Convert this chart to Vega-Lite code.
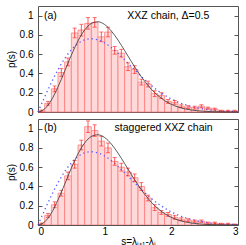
{
  "$schema": "https://vega.github.io/schema/vega-lite/v6.json",
  "background": "white",
  "padding": {"left": 5, "top": 5, "right": 7, "bottom": 0},
  "config": {
    "font": "Liberation Sans",
    "view": {"stroke": "#555555", "strokeWidth": 1},
    "axis": {"labelFontSize": 10, "titleFontSize": 10, "titleFontWeight": "normal", "labelColor": "#000", "titleColor": "#000", "grid": false, "domain": false, "tickColor": "#555555", "tickSize": -4, "format": "~g"},
    "text": {"font": "Liberation Sans", "fontSize": 10.5}
  },
  "datasets": {
    "bins": [
      {"panel":"a","s0":0.0,"s1":0.1,"s":0.05,"p":0.01,"err":0.01},
      {"panel":"a","s0":0.1,"s1":0.2,"s":0.15,"p":0.09,"err":0.02},
      {"panel":"a","s0":0.2,"s1":0.3,"s":0.25,"p":0.24,"err":0.03},
      {"panel":"a","s0":0.3,"s1":0.4,"s":0.35,"p":0.41,"err":0.04},
      {"panel":"a","s0":0.4,"s1":0.5,"s":0.45,"p":0.52,"err":0.04},
      {"panel":"a","s0":0.5,"s1":0.6,"s":0.55,"p":0.82,"err":0.05},
      {"panel":"a","s0":0.6,"s1":0.7,"s":0.65,"p":0.85,"err":0.06},
      {"panel":"a","s0":0.7,"s1":0.8,"s":0.75,"p":0.92,"err":0.06},
      {"panel":"a","s0":0.8,"s1":0.9,"s":0.85,"p":0.93,"err":0.05},
      {"panel":"a","s0":0.9,"s1":1.0,"s":0.95,"p":0.78,"err":0.05},
      {"panel":"a","s0":1.0,"s1":1.1,"s":1.05,"p":0.83,"err":0.05},
      {"panel":"a","s0":1.1,"s1":1.2,"s":1.15,"p":0.64,"err":0.04},
      {"panel":"a","s0":1.2,"s1":1.3,"s":1.25,"p":0.61,"err":0.04},
      {"panel":"a","s0":1.3,"s1":1.4,"s":1.35,"p":0.47,"err":0.04},
      {"panel":"a","s0":1.4,"s1":1.5,"s":1.45,"p":0.44,"err":0.04},
      {"panel":"a","s0":1.5,"s1":1.6,"s":1.55,"p":0.31,"err":0.03},
      {"panel":"a","s0":1.6,"s1":1.7,"s":1.65,"p":0.29,"err":0.03},
      {"panel":"a","s0":1.7,"s1":1.8,"s":1.75,"p":0.19,"err":0.03},
      {"panel":"a","s0":1.8,"s1":1.9,"s":1.85,"p":0.17,"err":0.03},
      {"panel":"a","s0":1.9,"s1":2.0,"s":1.95,"p":0.11,"err":0.02},
      {"panel":"a","s0":2.0,"s1":2.1,"s":2.05,"p":0.10,"err":0.02},
      {"panel":"a","s0":2.1,"s1":2.2,"s":2.15,"p":0.06,"err":0.015},
      {"panel":"a","s0":2.2,"s1":2.3,"s":2.25,"p":0.05,"err":0.015},
      {"panel":"a","s0":2.3,"s1":2.4,"s":2.35,"p":0.045,"err":0.015},
      {"panel":"a","s0":2.4,"s1":2.5,"s":2.45,"p":0.06,"err":0.015},
      {"panel":"a","s0":2.5,"s1":2.6,"s":2.55,"p":0.04,"err":0.01},
      {"panel":"a","s0":2.6,"s1":2.7,"s":2.65,"p":0.03,"err":0.01},
      {"panel":"a","s0":2.7,"s1":2.8,"s":2.75,"p":0.01,"err":0.008},
      {"panel":"a","s0":2.8,"s1":2.9,"s":2.85,"p":0.01,"err":0.008},
      {"panel":"a","s0":2.9,"s1":3.0,"s":2.95,"p":0.01,"err":0.008},
      {"panel":"b","s0":0.0,"s1":0.1,"s":0.05,"p":0.01,"err":0.01},
      {"panel":"b","s0":0.1,"s1":0.2,"s":0.15,"p":0.10,"err":0.02},
      {"panel":"b","s0":0.2,"s1":0.3,"s":0.25,"p":0.21,"err":0.03},
      {"panel":"b","s0":0.3,"s1":0.4,"s":0.35,"p":0.33,"err":0.03},
      {"panel":"b","s0":0.4,"s1":0.5,"s":0.45,"p":0.51,"err":0.04},
      {"panel":"b","s0":0.5,"s1":0.6,"s":0.55,"p":0.63,"err":0.04},
      {"panel":"b","s0":0.6,"s1":0.7,"s":0.65,"p":0.83,"err":0.05},
      {"panel":"b","s0":0.7,"s1":0.8,"s":0.75,"p":1.02,"err":0.06},
      {"panel":"b","s0":0.8,"s1":0.9,"s":0.85,"p":0.98,"err":0.06},
      {"panel":"b","s0":0.9,"s1":1.0,"s":0.95,"p":0.87,"err":0.05},
      {"panel":"b","s0":1.0,"s1":1.1,"s":1.05,"p":0.80,"err":0.05},
      {"panel":"b","s0":1.1,"s1":1.2,"s":1.15,"p":0.66,"err":0.04},
      {"panel":"b","s0":1.2,"s1":1.3,"s":1.25,"p":0.60,"err":0.04},
      {"panel":"b","s0":1.3,"s1":1.4,"s":1.35,"p":0.55,"err":0.04},
      {"panel":"b","s0":1.4,"s1":1.5,"s":1.45,"p":0.49,"err":0.04},
      {"panel":"b","s0":1.5,"s1":1.6,"s":1.55,"p":0.40,"err":0.04},
      {"panel":"b","s0":1.6,"s1":1.7,"s":1.65,"p":0.28,"err":0.03},
      {"panel":"b","s0":1.7,"s1":1.8,"s":1.75,"p":0.18,"err":0.03},
      {"panel":"b","s0":1.8,"s1":1.9,"s":1.85,"p":0.13,"err":0.02},
      {"panel":"b","s0":1.9,"s1":2.0,"s":1.95,"p":0.11,"err":0.02},
      {"panel":"b","s0":2.0,"s1":2.1,"s":2.05,"p":0.08,"err":0.02},
      {"panel":"b","s0":2.1,"s1":2.2,"s":2.15,"p":0.06,"err":0.015},
      {"panel":"b","s0":2.2,"s1":2.3,"s":2.25,"p":0.05,"err":0.015},
      {"panel":"b","s0":2.3,"s1":2.4,"s":2.35,"p":0.04,"err":0.012},
      {"panel":"b","s0":2.4,"s1":2.5,"s":2.45,"p":0.04,"err":0.012},
      {"panel":"b","s0":2.5,"s1":2.6,"s":2.55,"p":0.02,"err":0.01},
      {"panel":"b","s0":2.6,"s1":2.7,"s":2.65,"p":0.02,"err":0.01},
      {"panel":"b","s0":2.7,"s1":2.8,"s":2.75,"p":0.01,"err":0.008},
      {"panel":"b","s0":2.8,"s1":2.9,"s":2.85,"p":0.01,"err":0.008},
      {"panel":"b","s0":2.9,"s1":3.0,"s":2.95,"p":0.005,"err":0.005}
    ],
    "curves": [
      {"s":0.0,"gue":0.0,"goe":0.0},
      {"s":0.1,"gue":0.03201,"goe":0.15585},
      {"s":0.2,"gue":0.12325,"goe":0.30444},
      {"s":0.3,"gue":0.26022,"goe":0.43908},
      {"s":0.4,"gue":0.42315,"goe":0.55412},
      {"s":0.5,"gue":0.58960,"goe":0.64539},
      {"s":0.6,"gue":0.73805,"goe":0.71035},
      {"s":0.7,"gue":0.85139,"goe":0.74834},
      {"s":0.8,"gue":0.91861,"goe":0.76017},
      {"s":0.9,"gue":0.93637,"goe":0.74830},
      {"s":1.0,"gue":0.90758,"goe":0.71619},
      {"s":1.1,"gue":0.84043,"goe":0.66800},
      {"s":1.2,"gue":0.74637,"goe":0.60831},
      {"s":1.3,"gue":0.63716,"goe":0.54153},
      {"s":1.4,"gue":0.52385,"goe":0.47175},
      {"s":1.5,"gue":0.41583,"goe":0.40251},
      {"s":1.6,"gue":0.31886,"goe":0.33653},
      {"s":1.7,"gue":0.23650,"goe":0.27593},
      {"s":1.8,"gue":0.16981,"goe":0.22197},
      {"s":1.9,"gue":0.11812,"goe":0.17521},
      {"s":2.0,"gue":0.07966,"goe":0.13576},
      {"s":2.1,"gue":0.05211,"goe":0.10330},
      {"s":2.2,"gue":0.03306,"goe":0.07720},
      {"s":2.3,"gue":0.02037,"goe":0.05670},
      {"s":2.4,"gue":0.01219,"goe":0.04091},
      {"s":2.5,"gue":0.00709,"goe":0.02901},
      {"s":2.6,"gue":0.00401,"goe":0.02021},
      {"s":2.7,"gue":0.00220,"goe":0.01384},
      {"s":2.8,"gue":0.00117,"goe":0.00931},
      {"s":2.9,"gue":0.00061,"goe":0.00616},
      {"s":3.0,"gue":0.00031,"goe":0.00401}
    ],
    "labels": [
      {"panel":"a","side":"left","s":0.09,"p":1.0,"text":"(a)"},
      {"panel":"a","side":"right","s":2.57,"p":1.0,"text":"XXZ chain, Δ=0.5"},
      {"panel":"b","side":"left","s":0.09,"p":1.01,"text":"(b)"},
      {"panel":"b","side":"right","s":2.62,"p":1.01,"text":"staggered XXZ chain"}
    ]
  },
  "spacing": 0,
  "vconcat": [
    {
      "width": 200, "height": 106,
      "layer": [
        {
          "data": {"name": "bins"},
          "transform": [{"filter": "datum.panel === 'a'"}],
          "mark": {"type": "bar", "fill": "#ffd9d9", "stroke": "#ff7070", "strokeWidth": 0.7},
          "encoding": {
            "x": {"field": "s0", "type": "quantitative", "scale": {"domain": [0, 3], "nice": false}, "axis": {"values": [0,0.25,0.5,0.75,1,1.25,1.5,1.75,2,2.25,2.5,2.75,3], "labels": false, "title": null}},
            "x2": {"field": "s1"},
            "y": {"field": "p", "type": "quantitative", "scale": {"domain": [0, 1.1], "nice": false}, "axis": {"values": [0,0.2,0.4,0.6,0.8,1], "title": "p(s)", "labelPadding": 9, "titlePadding": 3}},
            "y2": {"datum": 0}
          }
        },
        {
          "data": {"name": "curves"},
          "mark": {"type": "line", "color": "#5a5aff", "strokeWidth": 1.3, "strokeDash": [1.3, 3], "interpolate": "monotone"},
          "encoding": {
            "x": {"field": "s", "type": "quantitative"},
            "y": {"field": "goe", "type": "quantitative", "axis": {"orient": "right", "values": [0,0.2,0.4,0.6,0.8,1], "labels": false, "title": null}}
          }
        },
        {
          "data": {"name": "bins"},
          "transform": [{"filter": "datum.panel === 'a'"}],
          "mark": {"type": "errorbar", "ticks": {"size": 4, "color": "#ff3030"}, "rule": {"color": "#ff3030", "strokeWidth": 0.8}},
          "encoding": {
            "x": {"field": "s", "type": "quantitative"},
            "y": {"field": "p", "type": "quantitative", "axis": null},
            "yError": {"field": "err"}
          }
        },
        {
          "data": {"name": "curves"},
          "mark": {"type": "line", "color": "#333333", "strokeWidth": 0.8, "interpolate": "monotone"},
          "encoding": {
            "x": {"field": "s", "type": "quantitative"},
            "y": {"field": "gue", "type": "quantitative", "axis": null}
          }
        },
        {
          "data": {"name": "labels"},
          "transform": [{"filter": "datum.panel === 'a' && datum.side === 'left'"}],
          "mark": {"type": "text", "align": "left", "baseline": "middle"},
          "encoding": {
            "x": {"field": "s", "type": "quantitative"},
            "y": {"field": "p", "type": "quantitative", "axis": null},
            "text": {"field": "text"}
          }
        },
        {
          "data": {"name": "labels"},
          "transform": [{"filter": "datum.panel === 'a' && datum.side === 'right'"}],
          "mark": {"type": "text", "align": "right", "baseline": "middle"},
          "encoding": {
            "x": {"field": "s", "type": "quantitative"},
            "y": {"field": "p", "type": "quantitative", "axis": null},
            "text": {"field": "text"}
          }
        }
      ],
      "resolve": {"axis": {"y": "independent"}}
    },
    {
      "width": 200, "height": 106,
      "layer": [
        {
          "data": {"name": "bins"},
          "transform": [{"filter": "datum.panel === 'b'"}],
          "mark": {"type": "bar", "fill": "#ffd9d9", "stroke": "#ff7070", "strokeWidth": 0.7, "clip": true},
          "encoding": {
            "x": {"field": "s0", "type": "quantitative", "scale": {"domain": [0, 3], "nice": false}, "axis": {"values": [0,0.25,0.5,0.75,1,1.25,1.5,1.75,2,2.25,2.5,2.75,3], "labelExpr": "datum.value % 0.5 === 0 ? datum.label : ''", "labelPadding": 5, "title": "s=λⱼ₊₁-λⱼ", "titlePadding": 0}},
            "x2": {"field": "s1"},
            "y": {"field": "p", "type": "quantitative", "scale": {"domain": [0, 1.1], "nice": false}, "axis": {"values": [0,0.2,0.4,0.6,0.8,1], "title": "p(s)", "labelPadding": 9, "titlePadding": 3}},
            "y2": {"datum": 0}
          }
        },
        {
          "data": {"name": "curves"},
          "mark": {"type": "line", "color": "#5a5aff", "strokeWidth": 1.3, "strokeDash": [1.3, 3], "interpolate": "monotone"},
          "encoding": {
            "x": {"field": "s", "type": "quantitative"},
            "y": {"field": "goe", "type": "quantitative", "axis": {"orient": "right", "values": [0,0.2,0.4,0.6,0.8,1], "labels": false, "title": null}}
          }
        },
        {
          "data": {"name": "bins"},
          "transform": [{"filter": "datum.panel === 'b'"}],
          "mark": {"type": "errorbar", "clip": true, "ticks": {"size": 4, "color": "#ff3030"}, "rule": {"color": "#ff3030", "strokeWidth": 0.8}},
          "encoding": {
            "x": {"field": "s", "type": "quantitative"},
            "y": {"field": "p", "type": "quantitative", "axis": null},
            "yError": {"field": "err"}
          }
        },
        {
          "data": {"name": "curves"},
          "mark": {"type": "line", "color": "#333333", "strokeWidth": 0.8, "interpolate": "monotone"},
          "encoding": {
            "x": {"field": "s", "type": "quantitative"},
            "y": {"field": "gue", "type": "quantitative", "axis": null}
          }
        },
        {
          "data": {"name": "labels"},
          "transform": [{"filter": "datum.panel === 'b' && datum.side === 'left'"}],
          "mark": {"type": "text", "align": "left", "baseline": "middle"},
          "encoding": {
            "x": {"field": "s", "type": "quantitative"},
            "y": {"field": "p", "type": "quantitative", "axis": null},
            "text": {"field": "text"}
          }
        },
        {
          "data": {"name": "labels"},
          "transform": [{"filter": "datum.panel === 'b' && datum.side === 'right'"}],
          "mark": {"type": "text", "align": "right", "baseline": "middle"},
          "encoding": {
            "x": {"field": "s", "type": "quantitative"},
            "y": {"field": "p", "type": "quantitative", "axis": null},
            "text": {"field": "text"}
          }
        }
      ],
      "resolve": {"axis": {"y": "independent"}}
    }
  ]
}
